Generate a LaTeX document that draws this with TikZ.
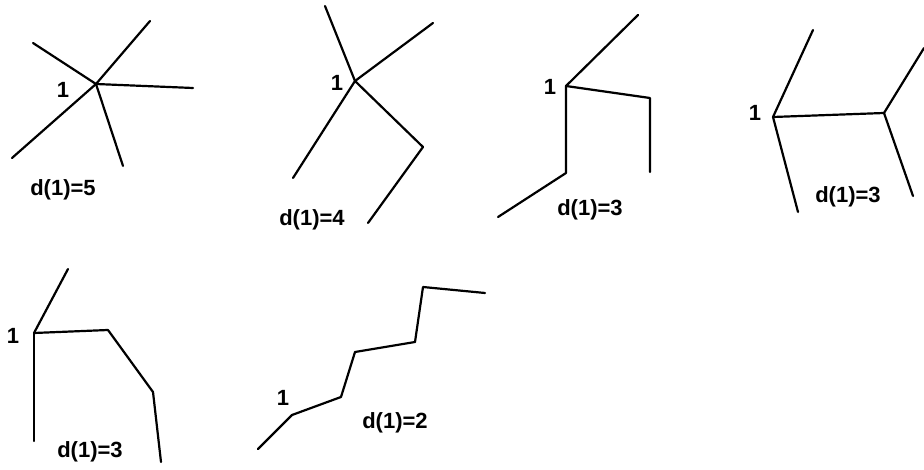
\documentclass[tikz,border=0pt]{standalone}
\usepackage{fontspec}
\setmainfont{Liberation Sans}
\usetikzlibrary{positioning}

\begin{document}
\begin{tikzpicture}[
  x=1pt,
  y=-1pt,
  edge/.style={
    line width=2.2pt,
    line cap=round,
    line join=round
  },
  vlabel/.style={
    font=\fontsize{22}{26}\selectfont\bfseries,
    inner sep=0pt
  },
  dlabel/.style={
    font=\fontsize{22}{26}\selectfont\bfseries,
    inner sep=0pt
  }
]
\useasboundingbox (0,0) rectangle (924,470);

% Vertex of degree 5
\coordinate (a1) at (96,84);
\coordinate (a2) at (150,21);
\coordinate (a3) at (33,43);
\coordinate (a4) at (12,158);
\coordinate (a5) at (193,88);
\coordinate (a6) at (123,166);
\node[vlabel] (la) at (63,90) {1};
\node[dlabel] (da) at (63,190) {d(1)=5};

\draw[edge] (a1) -- (a2);
\draw[edge] (a1) -- (a3);
\draw[edge] (a1) -- (a4);
\draw[edge] (a1) -- (a5);
\draw[edge] (a1) -- (a6);

% Vertex of degree 4
\coordinate (b1) at (355,81);
\coordinate (b2) at (325,6);
\coordinate (b3) at (433,23);
\coordinate (b4) at (293,178);
\coordinate (b5) at (423,147);
\coordinate (b6) at (368,223);
\node[vlabel] (lb) at (337,83) {1};
\node[dlabel] (db) at (312,220) {d(1)=4};

\draw[edge] (b1) -- (b2);
\draw[edge] (b1) -- (b3);
\draw[edge] (b1) -- (b4);
\draw[edge] (b1) -- (b5) -- (b6);

% Vertex of degree 3
\coordinate (c1) at (566,86);
\coordinate (c2) at (638,15);
\coordinate (c3) at (650,98);
\coordinate (c4) at (650,172);
\coordinate (c5) at (566,173);
\coordinate (c6) at (498,217);
\node[vlabel] (lc) at (550,87) {1};
\node[dlabel] (dc) at (590,210) {d(1)=3};

\draw[edge] (c1) -- (c2);
\draw[edge] (c1) -- (c3) -- (c4);
\draw[edge] (c1) -- (c5) -- (c6);

% Two vertices of degree 3
\coordinate (e1) at (773,117);
\coordinate (e2) at (813,30);
\coordinate (e3) at (798,212);
\coordinate (e4) at (884,113);
\coordinate (e5) at (924,48);
\coordinate (e6) at (913,196);
\node[vlabel] (le) at (755,113) {1};
\node[dlabel] (de) at (848,197) {d(1)=3};

\draw[edge] (e1) -- (e2);
\draw[edge] (e1) -- (e3);
\draw[edge] (e1) -- (e4);
\draw[edge] (e4) -- (e5);
\draw[edge] (e4) -- (e6);

% Vertex of degree 3, bent path
\coordinate (f1) at (34,333);
\coordinate (f2) at (68,269);
\coordinate (f3) at (34,441);
\coordinate (f4) at (108,330);
\coordinate (f5) at (153,392);
\coordinate (f6) at (161,462);
\node[vlabel] (lf) at (13,336) {1};
\node[dlabel] (df) at (90,452) {d(1)=3};

\draw[edge] (f1) -- (f2);
\draw[edge] (f1) -- (f3);
\draw[edge] (f1) -- (f4) -- (f5) -- (f6);

% Vertex of degree 2
\coordinate (g1) at (292,415);
\coordinate (g2) at (258,449);
\coordinate (g3) at (341,397);
\coordinate (g4) at (355,352);
\coordinate (g5) at (415,342);
\coordinate (g6) at (423,287);
\coordinate (g7) at (485,293);
\node[vlabel] (lg) at (283,398) {1};
\node[dlabel] (dg) at (395,423) {d(1)=2};

\draw[edge] (g1) -- (g2);
\draw[edge] (g1) -- (g3) -- (g4) -- (g5) -- (g6) -- (g7);

\end{tikzpicture}
\end{document}
